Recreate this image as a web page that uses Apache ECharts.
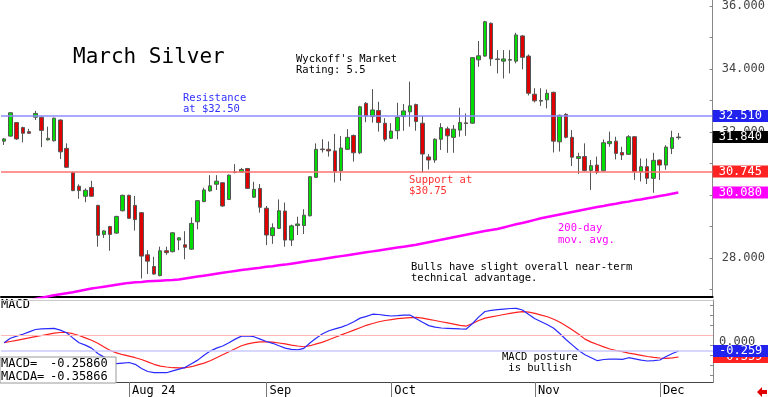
<!DOCTYPE html>
<html>
<head>
<meta charset="utf-8">
<script src="https://cdn.jsdelivr.net/npm/echarts@6/dist/echarts.min.js"></script>
<style>
  html, body { margin: 0; padding: 0; background: #fff; }
  #chart { width: 768px; height: 397px; }
</style>
</head>
<body>
<div id="chart"></div>
<script>
  // daily bars, July 3 2024 .. Dec 5 2024 : [open, close, low, high]
  const candles = [
    [31.71, 31.78, 31.59, 31.81], [31.87, 32.61, 31.85, 32.63], [32.30, 31.78, 31.75, 32.32],
    [32.14, 31.96, 31.67, 32.17], [32.01, 31.96, 31.94, 32.10], [32.47, 32.59, 32.38, 32.67],
    [32.47, 32.05, 31.52, 32.50], [31.75, 31.80, 31.73, 32.17], [31.72, 32.44, 31.70, 32.46],
    [32.38, 31.37, 31.14, 32.40], [31.48, 30.88, 30.86, 31.64], [30.71, 30.14, 30.12, 30.74],
    [30.28, 30.14, 29.88, 30.34], [29.96, 30.15, 29.77, 30.21], [30.24, 29.96, 29.94, 30.45],
    [29.67, 28.72, 28.36, 29.69], [28.75, 28.86, 28.64, 28.88], [29.00, 28.75, 28.23, 29.02],
    [28.79, 29.32, 28.77, 29.34], [29.50, 29.99, 29.48, 30.01], [29.99, 29.26, 29.24, 30.01],
    [29.67, 29.22, 28.87, 29.97], [29.44, 28.06, 27.35, 29.46], [28.10, 27.90, 27.49, 28.25],
    [27.73, 27.49, 27.47, 28.04], [27.44, 28.23, 27.42, 28.36], [28.23, 28.17, 28.10, 28.36],
    [28.20, 28.80, 28.18, 28.82], [28.57, 28.64, 28.25, 28.66], [28.42, 28.34, 27.96, 28.85],
    [28.28, 29.10, 28.26, 29.29], [29.15, 29.82, 28.91, 29.84], [29.79, 30.16, 29.77, 30.23],
    [30.13, 30.29, 30.11, 30.63], [30.34, 30.44, 30.16, 30.63], [30.39, 29.65, 29.63, 30.41],
    [29.86, 30.63, 29.84, 30.65], [30.73, 30.72, 30.69, 30.98], [30.73, 30.81, 30.70, 30.86],
    [30.84, 30.21, 30.19, 30.86], [29.93, 30.18, 29.91, 30.42], [30.21, 29.61, 29.44, 30.35],
    [29.58, 28.73, 28.41, 29.65], [28.71, 28.96, 28.45, 29.10], [28.94, 29.50, 28.92, 29.86],
    [29.49, 28.57, 28.36, 29.76], [28.57, 29.02, 28.38, 29.06], [29.03, 29.08, 28.73, 29.31],
    [29.03, 29.36, 28.76, 29.55], [29.34, 30.58, 29.32, 30.60], [30.56, 31.45, 30.54, 31.64],
    [31.46, 31.44, 31.35, 31.77], [31.45, 31.40, 31.22, 31.70], [31.40, 30.74, 30.40, 31.94],
    [30.77, 31.49, 30.45, 31.87], [31.45, 31.83, 31.43, 32.09], [31.89, 31.34, 31.06, 31.92],
    [31.34, 32.80, 31.30, 32.83], [32.91, 32.51, 32.31, 32.95], [32.49, 32.70, 32.30, 33.36],
    [32.68, 32.30, 32.01, 32.96], [32.28, 31.77, 31.70, 32.44], [31.80, 32.03, 31.78, 32.28],
    [32.04, 32.47, 31.77, 32.93], [32.49, 32.67, 32.04, 32.89], [32.64, 32.83, 32.17, 33.60],
    [32.87, 32.33, 32.04, 32.90], [32.28, 31.30, 30.71, 32.51], [31.21, 31.11, 30.81, 31.30],
    [31.11, 31.77, 31.02, 31.80], [31.77, 32.14, 31.43, 32.28], [32.10, 31.88, 31.34, 32.17],
    [31.83, 32.09, 31.34, 32.22], [32.06, 32.30, 31.85, 32.77], [32.29, 32.27, 31.88, 32.59],
    [32.28, 34.36, 32.26, 34.38], [34.29, 34.42, 34.07, 34.89], [34.41, 35.50, 34.39, 35.53],
    [35.45, 34.32, 34.10, 35.48], [34.32, 34.30, 33.86, 34.60], [34.25, 34.32, 33.70, 34.60],
    [34.28, 34.30, 33.86, 34.60], [34.25, 35.08, 34.18, 35.15], [35.05, 34.37, 33.99, 35.08],
    [34.41, 33.23, 33.16, 34.46], [33.20, 32.99, 32.94, 33.39], [32.98, 33.00, 32.83, 33.39],
    [33.02, 33.23, 32.75, 33.35], [33.26, 31.71, 31.35, 33.28], [31.69, 32.53, 31.38, 32.55],
    [32.56, 31.83, 31.80, 32.60], [31.83, 31.20, 30.92, 32.06], [31.16, 31.22, 30.67, 31.34],
    [31.22, 30.78, 30.75, 31.64], [30.78, 30.93, 30.16, 31.11], [30.95, 30.72, 30.66, 31.22],
    [30.77, 31.66, 30.75, 31.76], [31.63, 31.70, 31.53, 32.01], [31.71, 31.32, 31.13, 31.85],
    [31.35, 31.27, 31.11, 31.53], [31.29, 31.85, 31.27, 31.90], [31.85, 30.74, 30.48, 31.87],
    [30.74, 30.90, 30.43, 31.16], [30.90, 30.53, 30.35, 31.16], [30.53, 31.10, 30.07, 31.34],
    [31.11, 30.95, 30.48, 31.13], [30.95, 31.52, 30.80, 31.58], [31.48, 31.82, 31.30, 32.04],
    [31.82, 31.84, 31.76, 31.97]
  ];

  const ma200 = [
    26.50, 26.54, 26.58, 26.62, 26.66, 26.70, 26.74, 26.78, 26.82, 26.85,
    26.88, 26.91, 26.95, 26.99, 27.03, 27.06, 27.09, 27.12, 27.15, 27.18,
    27.21, 27.23, 27.24, 27.26, 27.27, 27.28, 27.29, 27.30, 27.32, 27.35,
    27.38, 27.41, 27.44, 27.47, 27.50, 27.53, 27.56, 27.59, 27.62, 27.64,
    27.67, 27.69, 27.72, 27.74, 27.77, 27.79, 27.82, 27.85, 27.88, 27.91,
    27.94, 27.97, 28.00, 28.03, 28.06, 28.09, 28.12, 28.15, 28.18, 28.21,
    28.24, 28.27, 28.30, 28.33, 28.36, 28.39, 28.42, 28.46, 28.50, 28.54,
    28.58, 28.62, 28.66, 28.70, 28.74, 28.78, 28.82, 28.86, 28.89, 28.92,
    28.97, 29.02, 29.07, 29.11, 29.16, 29.21, 29.26, 29.30, 29.34, 29.38,
    29.42, 29.46, 29.50, 29.54, 29.58, 29.62, 29.65, 29.69, 29.72, 29.76,
    29.79, 29.83, 29.86, 29.90, 29.93, 29.97, 30.00, 30.04, 30.08
  ];

  const macd = [
    -0.12, -0.045, -0.01, 0.02, 0.06, 0.10, 0.11, 0.115, 0.12, 0.09,
    0.047, -0.04, -0.12, -0.16, -0.21, -0.30, -0.36, -0.42, -0.47, -0.46,
    -0.45, -0.48, -0.55, -0.60, -0.62, -0.62, -0.62, -0.59, -0.56, -0.53,
    -0.47, -0.41, -0.33, -0.26, -0.21, -0.175, -0.12, -0.06, -0.01, -0.005,
    -0.02, -0.06, -0.10, -0.13, -0.17, -0.21, -0.23, -0.24, -0.215, -0.12,
    -0.04, 0.03, 0.08, 0.11, 0.14, 0.18, 0.23, 0.29, 0.32, 0.355,
    0.35, 0.335, 0.325, 0.33, 0.34, 0.342, 0.28, 0.22, 0.165, 0.14,
    0.125, 0.12, 0.115, 0.11, 0.108, 0.20, 0.31, 0.40, 0.42, 0.43,
    0.44, 0.45, 0.453, 0.425, 0.35, 0.28, 0.23, 0.18, 0.12, 0.03,
    -0.07, -0.16, -0.25, -0.32, -0.37, -0.42, -0.40, -0.395, -0.395, -0.397,
    -0.37, -0.39, -0.41, -0.425, -0.42, -0.408, -0.35, -0.30, -0.2586
  ];

  const signal = [
    -0.12, -0.10, -0.08, -0.06, -0.04, -0.02, 0.00, 0.02, 0.04, 0.05,
    0.05, 0.03, 0.00, -0.04, -0.08, -0.13, -0.19, -0.25, -0.29, -0.32,
    -0.345, -0.37, -0.40, -0.44, -0.48, -0.51, -0.525, -0.537, -0.54, -0.538,
    -0.52, -0.49, -0.46, -0.42, -0.37, -0.32, -0.27, -0.22, -0.17, -0.14,
    -0.12, -0.105, -0.105, -0.11, -0.125, -0.14, -0.16, -0.175, -0.187, -0.17,
    -0.14, -0.11, -0.07, -0.03, 0.01, 0.05, 0.09, 0.13, 0.17, 0.20,
    0.23, 0.25, 0.265, 0.28, 0.29, 0.298, 0.303, 0.29, 0.27, 0.25,
    0.23, 0.21, 0.19, 0.17, 0.158, 0.20, 0.25, 0.29, 0.31, 0.33,
    0.35, 0.37, 0.385, 0.397, 0.39, 0.37, 0.34, 0.313, 0.27, 0.22,
    0.16, 0.09, 0.02, -0.06, -0.11, -0.15, -0.19, -0.225, -0.25, -0.27,
    -0.295, -0.31, -0.33, -0.35, -0.365, -0.375, -0.38, -0.372, -0.35866
  ];

  const monthStarts = [20, 42, 62, 85, 105];
  const monthLabels = ['Aug 24', 'Sep', 'Oct', 'Nov', 'Dec'];
  const priceLabels = [28, 30, 32, 34, 36];
  const priceTicks = [27, 28, 29, 30, 31, 32, 33, 34, 35, 36];
  const macdTicks = [-0.667, -0.5, -0.333, -0.167, 0, 0.167, 0.333, 0.5];
  const resistance = 32.51;
  const support = 30.745;
  const lastPrice = 31.84;

  const slots = 114; // a few empty days on the right
  const days = [];
  for (let i = 0; i < slots; i++) days.push(i);

  const FONT = '"DejaVu Sans Mono", monospace';
  const NOLINE = { color: 'rgba(0,0,0,0)', width: 0 };

  function tag(bg, extra) {
    return Object.assign({
      show: true,
      position: 'end',
      distance: 0,
      formatter: p => Number(p.value).toFixed(3),
      color: '#fff',
      backgroundColor: bg,
      padding: [1, 6, 0, 6],
      fontFamily: FONT,
      fontSize: 12,
      lineHeight: 11
    }, extra || {});
  }

  let myChart = echarts.init(document.getElementById('chart'))

  myChart.setOption({
    animation: false,
    backgroundColor: '#fff',
    grid: [
      { left: 1, right: 55, top: 0, height: 297 },
      { left: 1, right: 55, top: 300, height: 82 }
    ],
    xAxis: [
      {
        type: 'category', gridIndex: 0, data: days,
        axisLine: { onZero: false, lineStyle: { color: '#000', width: 2 } },
        axisTick: { show: false }, axisLabel: { show: false }
      },
      {
        type: 'category', gridIndex: 1, data: days,
        axisLine: { onZero: false, lineStyle: { color: '#444' } },
        axisTick: {
          show: true, alignWithLabel: true, length: 15,
          interval: i => monthStarts.includes(i),
          lineStyle: { color: '#777', width: 1 }
        },
        axisLabel: {
          interval: i => monthStarts.includes(i),
          formatter: (v, i) => monthLabels[monthStarts.indexOf(i)] || '',
          align: 'left', verticalAlign: 'top', margin: 3, padding: [0, 0, 0, 3],
          color: '#000', fontFamily: FONT, fontSize: 12
        }
      },
      {
        type: 'category', gridIndex: 1, data: days, position: 'top',
        axisLine: { onZero: false, lineStyle: { color: '#ccc' } },
        axisTick: { show: false }, axisLabel: { show: false }
      }
    ],
    yAxis: [
      {
        type: 'value', gridIndex: 0, position: 'right',
        min: 26.762, max: 36.19,
        splitLine: { show: false },
        axisLine: { show: true, lineStyle: { color: '#888' } },
        axisTick: { show: true, inside: true, length: 3, customValues: priceTicks, lineStyle: { color: '#888' } },
        axisLabel: {
          customValues: priceLabels,
          formatter: v => v.toFixed(3),
          color: '#444', fontFamily: FONT, fontSize: 12, margin: 9
        }
      },
      {
        type: 'value', gridIndex: 1, position: 'right',
        min: -0.775, max: 0.592,
        splitLine: { show: false },
        axisLine: { show: true, lineStyle: { color: '#888' } },
        axisTick: { show: true, inside: true, length: 3, customValues: macdTicks, lineStyle: { color: '#888' } },
        axisLabel: { show: false }
      }
    ],
    series: [
      {
        name: 'March Silver',
        type: 'candlestick',
        xAxisIndex: 0, yAxisIndex: 0,
        data: candles,
        barWidth: 4,
        silent: true,
        itemStyle: {
          color: '#00dd00', color0: '#e00000',
          borderColor: '#555', borderColor0: '#555', borderWidth: 1
        },
        markLine: {
          symbol: ['none', 'none'], silent: true, precision: 5,
          data: [
            { yAxis: resistance, lineStyle: { color: '#8c8cff', width: 1.5, type: 'solid' }, label: tag('#2222ee') },
            { yAxis: support, lineStyle: { color: '#ff7070', width: 1.5, type: 'solid' }, label: tag('#ff2222') },
            { yAxis: lastPrice, lineStyle: NOLINE, label: tag('#000') }
          ]
        }
      },
      {
        name: '200-day',
        type: 'line',
        xAxisIndex: 0, yAxisIndex: 0,
        data: ma200,
        showSymbol: false, silent: true,
        lineStyle: { color: '#ff00ff', width: 2.5 },
        markLine: {
          symbol: ['none', 'none'], silent: true, precision: 5,
          data: [{ yAxis: ma200[ma200.length - 1], lineStyle: NOLINE, label: tag('#ff00ff') }]
        }
      },
      {
        name: 'MACDA',
        type: 'line',
        xAxisIndex: 1, yAxisIndex: 1,
        data: signal,
        showSymbol: false, silent: true,
        lineStyle: { color: '#ff2020', width: 1.2 },
        markLine: {
          symbol: ['none', 'none'], silent: true, precision: 5,
          data: [
            { yAxis: 0, lineStyle: { color: '#ffb8b8', width: 1, type: 'solid' },
              label: tag('transparent', { color: '#444', offset: [0, 6] }) },
            { yAxis: signal[signal.length - 1], lineStyle: NOLINE, label: tag('#ff2222') }
          ]
        }
      },
      {
        name: 'MACD',
        type: 'line',
        xAxisIndex: 1, yAxisIndex: 1,
        data: macd,
        showSymbol: false, silent: true,
        lineStyle: { color: '#2a2aff', width: 1.2 },
        markLine: {
          symbol: ['none', 'none'], silent: true, precision: 5,
          data: [
            { yAxis: macd[macd.length - 1], lineStyle: { color: '#c8c8ff', width: 1.5, type: 'solid' }, label: tag('#2222ee') }
          ]
        }
      }
    ],
    graphic: [
      { type: 'text', x: 73, y: 47, style: { text: 'March Silver', font: '21px ' + FONT, fill: '#000' } },
      { type: 'text', x: 296, y: 54, style: { text: "Wyckoff's Market\nRating: 5.5", font: '10.5px ' + FONT, lineHeight: 11, fill: '#000' } },
      { type: 'text', x: 183, y: 93, style: { text: 'Resistance\nat $32.50', font: '10.5px ' + FONT, lineHeight: 11, fill: '#3030ff' } },
      { type: 'text', x: 409, y: 175, style: { text: 'Support at\n$30.75', font: '10.5px ' + FONT, lineHeight: 11, fill: '#ff3030' } },
      { type: 'text', x: 558, y: 223, style: { text: '200-day\nmov. avg.', font: '10.5px ' + FONT, lineHeight: 11.5, fill: '#ff00ff' } },
      { type: 'text', x: 411, y: 262, style: { text: 'Bulls have slight overall near-term\ntechnical advantage.', font: '10.5px ' + FONT, lineHeight: 11, fill: '#000' } },
      { type: 'text', x: 502, y: 352, z: 50, style: { text: 'MACD posture\n is bullish', font: '10.5px ' + FONT, lineHeight: 11, fill: '#000' } },
      { type: 'text', x: 1, y: 299, style: { text: 'MACD', font: '12px ' + FONT, fill: '#000' } },
      { type: 'rect', z: 100, shape: { x: 0, y: 357, width: 116, height: 26 }, style: { fill: '#fff', stroke: '#999', lineWidth: 1 } },
      { type: 'text', z: 101, x: 1, y: 357, style: { text: 'MACD=\nMACDA=', font: '12px ' + FONT, lineHeight: 13, fill: '#000' } },
      { type: 'text', z: 101, x: 50, y: 357, style: { text: '-0.25860\n-0.35866', font: '12px ' + FONT, lineHeight: 13, fill: '#000' } },
      { type: 'polygon', z: 100, shape: { points: [[757, 392], [762, 387], [762, 390], [767, 390], [767, 394], [762, 394], [762, 397]] }, style: { fill: '#e00000' } }
    ]
  })
</script>
</body>
</html>
